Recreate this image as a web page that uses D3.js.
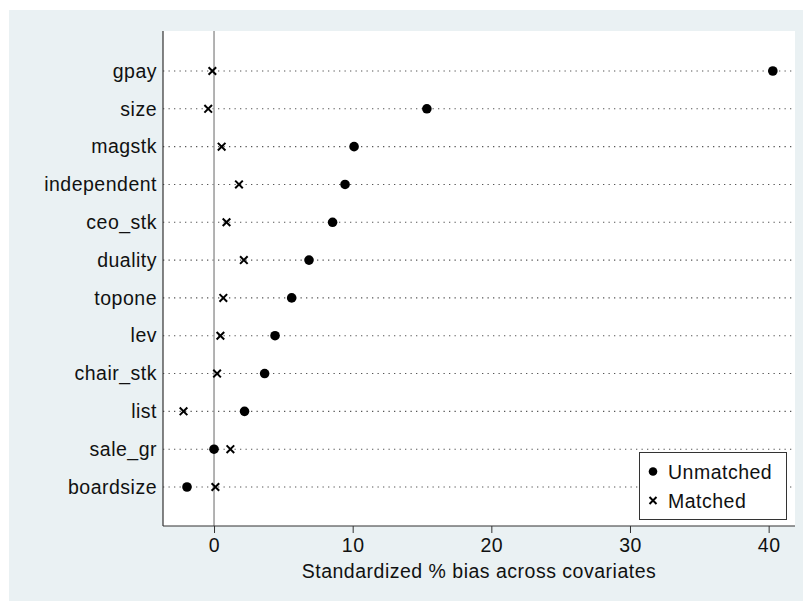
<!DOCTYPE html>
<html>
<head>
<meta charset="utf-8">
<script src="https://cdn.jsdelivr.net/npm/d3@7/dist/d3.min.js"></script>
<style>
  html, body { margin: 0; padding: 0; background: #ffffff; }
  svg { display: block; }
  text { font-family: "Liberation Sans", Arial, sans-serif; fill: #111; }
</style>
</head>
<body>
<svg id="chart" width="803" height="601"></svg>
<script>
const categories = ["gpay","size","magstk","independent","ceo_stk","duality","topone","lev","chair_stk","list","sale_gr","boardsize"];
const unmatched = [40.3, 15.35, 10.1, 9.45, 8.55, 6.85, 5.6, 4.4, 3.65, 2.2, 0.0, -1.95];
const matched   = [-0.12, -0.42, 0.55, 1.8, 0.9, 2.15, 0.67, 0.46, 0.22, -2.2, 1.18, 0.1];
const xTicks = [0, 10, 20, 30, 40];
const xTitle = "Standardized % bias across covariates";
const legendLabels = ["Unmatched", "Matched"];

const svg = d3.select("#chart");
const W = 803, H = 601;
const plot = { left: 163, right: 795, top: 31, bottom: 526 };

// outer graph region
svg.append("rect").attr("x", 9).attr("y", 10).attr("width", W - 9).attr("height", H - 10)
  .attr("fill", "#eaf1f3");
// plot region
svg.append("rect").attr("x", plot.left).attr("y", plot.top)
  .attr("width", plot.right - plot.left).attr("height", plot.bottom - plot.top)
  .attr("fill", "#ffffff");

const x = d3.scaleLinear().domain([-3.68, 41.9]).range([plot.left, plot.right]);
const y = d3.scalePoint().domain(categories).range([71, 487]);

// dotted row lines
svg.append("g").selectAll("line").data(categories).join("line")
  .attr("x1", plot.left).attr("x2", plot.right)
  .attr("y1", d => y(d)).attr("y2", d => y(d))
  .attr("stroke", "#555").attr("stroke-width", 1.1)
  .attr("stroke-dasharray", "1.3,4.2");

// zero reference line
svg.append("line").attr("x1", x(0)).attr("x2", x(0))
  .attr("y1", plot.top).attr("y2", plot.bottom)
  .attr("stroke", "#999").attr("stroke-width", 1.5);

// x axis
const xAxis = d3.axisBottom(x).tickValues(xTicks).tickSize(7).tickPadding(5).tickFormat(d3.format("d"));
const gx = svg.append("g").attr("transform", `translate(0,${plot.bottom})`).call(xAxis);
gx.select(".domain").attr("stroke", "#333").attr("stroke-width", 1.2)
  .attr("d", `M${plot.left},0H${plot.right}`);
gx.selectAll(".tick line").attr("stroke", "#333");
gx.selectAll(".tick text").attr("font-size", "19.5px").attr("letter-spacing", "0.5px")
  .attr("fill", "#111").attr("font-family", "'Liberation Sans', Arial, sans-serif");

// y axis
const yAxis = d3.axisLeft(y).tickSize(0).tickPadding(6);
const gy = svg.append("g").attr("transform", `translate(${plot.left},0)`).call(yAxis);
gy.select(".domain").attr("stroke", "#333").attr("stroke-width", 1.2)
  .attr("d", `M0,${plot.top}V${plot.bottom}`);
gy.selectAll(".tick text").attr("font-size", "19.5px").attr("letter-spacing", "0.5px")
  .attr("fill", "#111").attr("font-family", "'Liberation Sans', Arial, sans-serif");

// x title
svg.append("text").attr("x", (plot.left + plot.right) / 2).attr("y", 578)
  .attr("text-anchor", "middle").attr("font-size", "19.5px").attr("letter-spacing", "0.5px")
  .text(xTitle);

// markers
const crossPath = s => `M${-s},${-s}L${s},${s}M${-s},${s}L${s},${-s}`;
svg.append("g").selectAll("circle").data(categories).join("circle")
  .attr("cx", (d, i) => x(unmatched[i])).attr("cy", d => y(d))
  .attr("r", 4.8).attr("fill", "#000");
svg.append("g").selectAll("path").data(categories).join("path")
  .attr("transform", (d, i) => `translate(${x(matched[i])},${y(d)})`)
  .attr("d", crossPath(3.8)).attr("stroke", "#000").attr("stroke-width", 2).attr("fill", "none");

// legend
const lg = svg.append("g");
lg.append("rect").attr("x", 639.5).attr("y", 452.5).attr("width", 147).attr("height", 67)
  .attr("fill", "#fff").attr("stroke", "#333").attr("stroke-width", 1);
lg.append("circle").attr("cx", 653).attr("cy", 471.5).attr("r", 4.3).attr("fill", "#000");
lg.append("path").attr("transform", "translate(653,500.5)").attr("d", crossPath(3.5))
  .attr("stroke", "#000").attr("stroke-width", 2);
lg.selectAll("text.lt").data(legendLabels).join("text").attr("class", "lt")
  .attr("x", 668).attr("y", (d, i) => 471.5 + i * 29).attr("dy", "0.36em")
  .attr("font-size", "19.5px").attr("letter-spacing", "0.5px").text(d => d);
</script>
</body>
</html>
